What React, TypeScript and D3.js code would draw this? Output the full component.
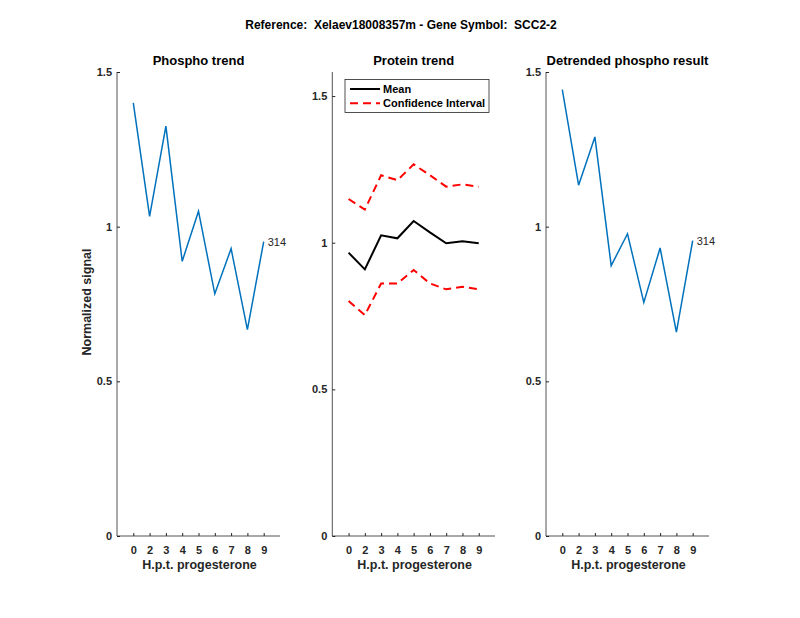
import { useEffect, useRef } from "react"
import * as d3 from "d3"

// tick labels along x (one per time point)
const timeLabels = ["0", "2", "3", "4", "5", "6", "7", "8", "9"]

// phospho trend (blue)
const phosphoValues = [1.4, 1.033, 1.325, 0.888, 1.05, 0.783, 0.929, 0.667, 0.952]

// protein trend
const proteinMean = [0.966, 0.909, 1.025, 1.015, 1.074, 1.035, 0.998, 1.005, 0.998]
const proteinUpper = [1.149, 1.113, 1.23, 1.213, 1.267, 1.23, 1.191, 1.199, 1.191]
const proteinLower = [0.801, 0.753, 0.861, 0.861, 0.907, 0.861, 0.841, 0.85, 0.841]

// detrended phospho (blue)
const detrendedValues = [1.443, 1.134, 1.29, 0.874, 0.977, 0.755, 0.931, 0.659, 0.955]

const peptideLabel = "314"
const yTicks = [0, 0.5, 1, 1.5]

const FONT = "'Liberation Sans', Arial, Helvetica, sans-serif"
const AXIS_COLOR = "#262626"

export default function App() {
  const svgRef = useRef<SVGSVGElement>(null)

  useEffect(() => {
    if (!svgRef.current) return
    const svg = d3.select(svgRef.current)
    svg.selectAll("*").remove()

    svg.append("rect").attr("width", 800).attr("height", 618).attr("fill", "white")

    svg
      .append("text")
      .attr("x", 401)
      .attr("y", 29)
      .attr("text-anchor", "middle")
      .style("font-family", FONT)
      .style("font-size", "12px")
      .style("font-weight", "bold")
      .style("white-space", "pre")
      .style("fill", "#000")
      .text("Reference:  Xelaev18008357m - Gene Symbol:  SCC2-2")

    type Series = { values: number[]; color: string; width: number; dash?: string }

    const drawPanel = (
      left: number,
      right: number,
      yMax: number,
      title: string,
      series: Series[],
      showYLabel: boolean,
      label: boolean
    ) => {
      const top = 72
      const bottom = 536
      const x = d3.scaleLinear().domain([0, 10]).range([left, right])
      const y = d3.scaleLinear().domain([0, yMax]).range([bottom, top])
      const g = svg.append("g")

      // y axis
      const yAxis = g
        .append("g")
        .attr("transform", `translate(${left},0)`)
        .call(d3.axisRight(y).tickValues(yTicks).tickSize(3).tickFormat((d) => String(d)))
      yAxis.select(".domain").remove()
      yAxis.selectAll("line").attr("stroke", AXIS_COLOR)
      yAxis
        .selectAll("text")
        .attr("x", -5)
        .attr("text-anchor", "end")
        .style("font-family", FONT)
        .style("font-size", "11px")
        .style("font-weight", "bold")
        .style("fill", AXIS_COLOR)
      g.append("line")
        .attr("x1", left)
        .attr("x2", left)
        .attr("y1", top)
        .attr("y2", bottom)
        .attr("stroke", AXIS_COLOR)
        .attr("stroke-width", 0.8)

      // x axis
      const idx = timeLabels.map((_, i) => i + 1)
      const xAxis = g
        .append("g")
        .attr("transform", `translate(0,${bottom})`)
        .call(
          d3
            .axisTop(x)
            .tickValues(idx)
            .tickSize(3)
            .tickFormat((d) => timeLabels[(d as number) - 1])
        )
      xAxis.select(".domain").remove()
      xAxis.selectAll("line").attr("stroke", AXIS_COLOR)
      xAxis
        .selectAll("text")
        .attr("y", 18)
        .style("font-family", FONT)
        .style("font-size", "11px")
        .style("font-weight", "bold")
        .style("fill", AXIS_COLOR)
      g.append("line")
        .attr("x1", left)
        .attr("x2", right)
        .attr("y1", bottom)
        .attr("y2", bottom)
        .attr("stroke", AXIS_COLOR)
        .attr("stroke-width", 0.8)

      g.append("text")
        .attr("x", (left + right) / 2 + 1)
        .attr("y", 569)
        .attr("text-anchor", "middle")
        .style("font-family", FONT)
        .style("font-size", "12.5px")
        .style("font-weight", "bold")
        .style("fill", AXIS_COLOR)
        .text("H.p.t. progesterone")

      g.append("text")
        .attr("x", (left + right) / 2)
        .attr("y", 65)
        .attr("text-anchor", "middle")
        .style("font-family", FONT)
        .style("font-size", "13px")
        .style("font-weight", "bold")
        .style("fill", "#000")
        .text(title)

      if (showYLabel) {
        g.append("text")
          .attr("transform", `translate(${left - 26},${(top + bottom) / 2 - 2}) rotate(-90)`)
          .attr("text-anchor", "middle")
          .style("font-family", FONT)
          .style("font-size", "12.5px")
          .style("font-weight", "bold")
          .style("fill", AXIS_COLOR)
          .text("Normalized signal")
      }

      const line = d3
        .line<number>()
        .x((_, i) => x(i + 1))
        .y((d) => y(d))

      series.forEach((s) => {
        g.append("path")
          .datum(s.values)
          .attr("d", line)
          .attr("fill", "none")
          .attr("stroke", s.color)
          .attr("stroke-width", s.width)
          .attr("stroke-dasharray", s.dash ?? null)
      })

      if (label) {
        const last = series[0].values[series[0].values.length - 1]
        g.append("text")
          .attr("x", x(series[0].values.length) + 4)
          .attr("y", y(last) + 4)
          .style("font-family", FONT)
          .style("font-size", "11px")
          .style("fill", AXIS_COLOR)
          .text(peptideLabel)
      }

      return { x, y }
    }

    drawPanel(117, 280, 1.5, "Phospho trend", [{ values: phosphoValues, color: "#0072BD", width: 1.5 }], true, true)

    drawPanel(
      332.3,
      495,
      1.582,
      "Protein trend",
      [
        { values: proteinMean, color: "#000", width: 2 },
        { values: proteinUpper, color: "#FF0000", width: 2, dash: "8,5" },
        { values: proteinLower, color: "#FF0000", width: 2, dash: "8,5" },
      ],
      false,
      false
    )

    drawPanel(546, 709, 1.5, "Detrended phospho result", [{ values: detrendedValues, color: "#0072BD", width: 1.5 }], false, true)

    // legend
    const lg = svg.append("g")
    lg.append("rect")
      .attr("x", 345)
      .attr("y", 79.5)
      .attr("width", 144)
      .attr("height", 33)
      .attr("fill", "white")
      .attr("stroke", AXIS_COLOR)
      .attr("stroke-width", 0.8)
    const items = [
      { name: "Mean", color: "#000", dash: null as string | null },
      { name: "Confidence Interval", color: "#FF0000", dash: "8,5" },
    ]
    items.forEach((it, i) => {
      const yy = 89 + i * 14.3
      lg.append("line")
        .attr("x1", 350)
        .attr("x2", 380)
        .attr("y1", yy)
        .attr("y2", yy)
        .attr("stroke", it.color)
        .attr("stroke-width", 2)
        .attr("stroke-dasharray", it.dash)
      lg.append("text")
        .attr("x", 383)
        .attr("y", yy + 4)
        .style("font-family", FONT)
        .style("font-size", "11px")
        .style("font-weight", "bold")
        .style("fill", "#000")
        .text(it.name)
    })
  }, [])

  return (
    <div style={{ width: 800, height: 618, margin: -8 }}>
      <svg ref={svgRef} width={800} height={618} style={{ display: "block" }} />
    </div>
  )
}
